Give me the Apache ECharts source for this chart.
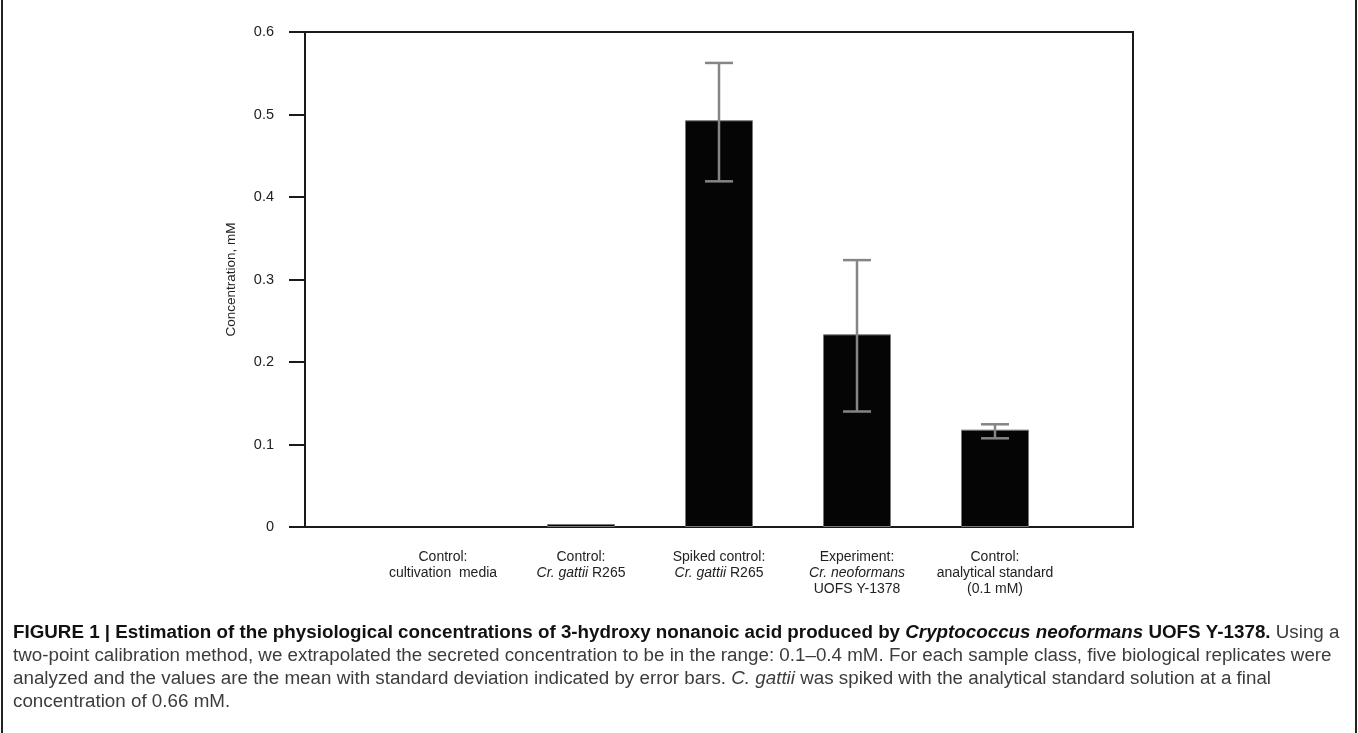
<!DOCTYPE html>
<html>
<head>
<meta charset="utf-8">
<script src="https://cdn.jsdelivr.net/npm/echarts@6/dist/echarts.min.js"></script>
<style>
html,body{margin:0;padding:0;background:#fff;}
#c{width:1358px;height:733px;}
</style>
</head>
<body>
<div id="c"></div>
<script>
// ---- data ----
const categories = [
  'Control:\ncultivation  media',
  'Control:\n{i|Cr. gattii} R265',
  'Spiked control:\n{i|Cr. gattii} R265',
  'Experiment:\n{i|Cr. neoformans}\nUOFS Y-1378',
  'Control:\nanalytical standard\n(0.1 mM)'
];
const means = [0, 0.0036, 0.493, 0.2335, 0.118];
const errLow = [null, null, 0.419, 0.140, 0.1075];
const errHigh = [null, null, 0.5625, 0.3235, 0.1245];
const yTicks = [0, 0.1, 0.2, 0.3, 0.4, 0.5, 0.6];
const yTitle = 'Concentration, mM';

// ---- build ----
const axisCats = [''].concat(categories).concat(['']);
const barData = [null].concat(means.map(v => v > 0 ? v : {value: v, itemStyle: {borderWidth: 0}})).concat([null]);
const errData = [];
categories.forEach((c, i) => {
  if (errLow[i] != null) errData.push([i + 1, errLow[i], errHigh[i]]);
});

const FONT = '"Liberation Sans", Arial, sans-serif';
const chart = echarts.init(document.getElementById('c'), null, {renderer: 'canvas'});

const capLines = [
  [{t: 'FIGURE 1 | Estimation of the physiological concentrations of 3-hydroxy nonanoic acid produced by ', s: 'b'},
   {t: 'Cryptococcus neoformans', s: 'bi'}, {t: ' UOFS Y-1378.', s: 'b'}, {t: ' Using a', s: 'r'}],
  [{t: 'two-point calibration method, we extrapolated the secreted concentration to be in the range: 0.1\u20130.4 mM. For each sample class, five biological replicates were', s: 'r'}],
  [{t: 'analyzed and the values are the mean with standard deviation indicated by error bars. ', s: 'r'},
   {t: 'C. gattii', s: 'i'}, {t: ' was spiked with the analytical standard solution at a final', s: 'r'}],
  [{t: 'concentration of 0.66 mM.', s: 'r'}]
];
const capFS = 18.8;
const capRich = {
  b: {fontFamily: FONT, fontSize: capFS, fontWeight: 'bold', fill: '#111'},
  bi: {fontFamily: FONT, fontSize: capFS, fontWeight: 'bold', fontStyle: 'italic', fill: '#111'},
  r: {fontFamily: FONT, fontSize: capFS, fill: '#3c3c3c'},
  i: {fontFamily: FONT, fontSize: capFS, fontStyle: 'italic', fill: '#3c3c3c'}
};
const capGraphics = capLines.map((line, k) => ({
  type: 'text',
  left: 13,
  top: 623 + k * 23,
  style: {
    text: line.map(p => '{' + p.s + '|' + p.t.replace(/[{}]/g, '') + '}').join(''),
    rich: capRich,
    fontFamily: FONT,
    fontSize: capFS
  }
}));

const option = {
  animation: false,
  backgroundColor: '#fff',
  grid: {left: 305, top: 32, right: 225, bottom: 206, show: true, borderColor: '#1a1a1a', borderWidth: 2, backgroundColor: 'transparent'},
  xAxis: {
    type: 'category',
    data: axisCats,
    boundaryGap: false,
    axisLine: {lineStyle: {color: '#1a1a1a', width: 2}},
    axisTick: {show: false},
    splitLine: {show: false},
    axisLabel: {
      interval: 0,
      margin: 22,
      color: '#222',
      fontFamily: FONT,
      fontSize: 14,
      lineHeight: 16,
      align: 'center',
      rich: {i: {fontStyle: 'italic', fontFamily: FONT, fontSize: 14, color: '#222', lineHeight: 16}}
    }
  },
  yAxis: {
    type: 'value',
    min: yTicks[0],
    max: yTicks[yTicks.length - 1],
    interval: 0.1,
    name: yTitle,
    nameLocation: 'middle',
    nameRotate: 90,
    nameGap: 67,
    nameTextStyle: {color: '#222', fontFamily: FONT, fontSize: 13.5},
    axisLine: {show: true, lineStyle: {color: '#1a1a1a', width: 2}},
    axisTick: {show: true, length: 16, inside: false, lineStyle: {color: '#1a1a1a', width: 2}},
    splitLine: {show: false},
    axisLabel: {
      margin: 31,
      color: '#222',
      fontFamily: FONT,
      fontSize: 14.5,
      formatter: v => (Math.round(v * 10) / 10).toString()
    }
  },
  series: [
    {
      type: 'bar',
      data: barData,
      barWidth: 68,
      itemStyle: {color: '#050505', borderColor: '#777', borderWidth: 1},
      z: 2
    },
    {
      type: 'custom',
      data: errData,
      z: 5,
      renderItem: function (params, api) {
        const x = api.value(0);
        const lo = api.coord([x, api.value(1)]);
        const hi = api.coord([x, api.value(2)]);
        const hw = 14;
        const st = {stroke: '#858585', lineWidth: 2.5};
        return {
          type: 'group',
          children: [
            {type: 'line', shape: {x1: lo[0], y1: lo[1], x2: hi[0], y2: hi[1]}, style: st},
            {type: 'line', shape: {x1: lo[0] - hw, y1: lo[1], x2: lo[0] + hw, y2: lo[1]}, style: st},
            {type: 'line', shape: {x1: hi[0] - hw, y1: hi[1], x2: hi[0] + hw, y2: hi[1]}, style: st}
          ]
        };
      }
    }
  ],
  graphic: [
    {type: 'line', shape: {x1: 2, y1: 0, x2: 2, y2: 733}, style: {stroke: '#222', lineWidth: 2}},
    {type: 'line', shape: {x1: 1356, y1: 0, x2: 1356, y2: 733}, style: {stroke: '#222', lineWidth: 2}}
  ].concat(capGraphics)
};
chart.setOption(option);
</script>
</body>
</html>
